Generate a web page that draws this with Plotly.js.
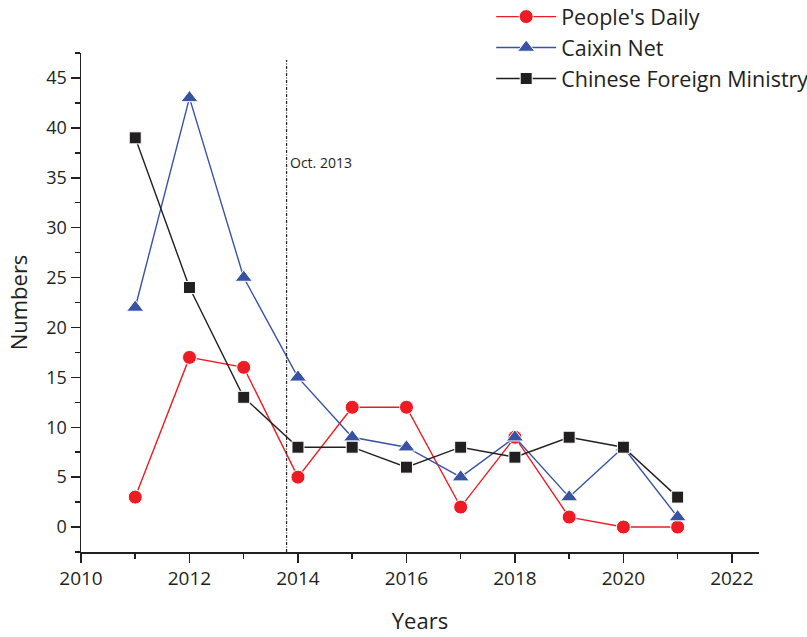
<!DOCTYPE html>
<html>
<head>
<meta charset="utf-8">
<script src="https://cdn.plot.ly/plotly-3.0.1.min.js"></script>
<style>html,body{margin:0;padding:0;background:#fff;}#chart{width:807px;height:637px;}</style>
</head>
<body>
<div id="chart"></div>
<script>
const years = [2011, 2012, 2013, 2014, 2015, 2016, 2017, 2018, 2019, 2020, 2021];
const peoplesDaily = [3, 17, 16, 5, 12, 12, 2, 9, 1, 0, 0];
const caixinNet = [22, 43, 25, 15, 9, 8, 5, 9, 3, 8, 1];
const foreignMinistry = [39, 24, 13, 8, 8, 6, 8, 7, 9, 8, 3];
const seriesNames = ["People's Daily", "Caixin Net", "Chinese Foreign Ministry"];
const markerLine = "Oct. 2013";
const markerX = 2013.79;

const font = "Open Sans, Noto Sans, sans-serif";
const axisColor = "#231f20";

const traces = [
  {x: years, y: peoplesDaily, name: seriesNames[0], mode: "lines+markers", type: "scatter",
   line: {color: "#ed1c24", width: 1.4},
   marker: {symbol: "circle", size: 14, color: "#ed1c24", line: {color: "#fff", width: 1}}},
  {x: years, y: caixinNet, name: seriesNames[1], mode: "lines+markers", type: "scatter",
   line: {color: "#3953a4", width: 1.4},
   marker: {symbol: "triangle-up", size: 15, color: "#3953a4", line: {color: "#fff", width: 1}}},
  {x: years, y: foreignMinistry, name: seriesNames[2], mode: "lines+markers", type: "scatter",
   line: {color: "#231f20", width: 1.4},
   marker: {symbol: "square", size: 12, color: "#231f20", line: {color: "#fff", width: 1}}}
];

const layout = {
  width: 807, height: 637,
  margin: {l: 81, r: 48, t: 53, b: 85, autoexpand: false},
  paper_bgcolor: "#fff", plot_bgcolor: "#fff",
  font: {family: font, color: axisColor},
  showlegend: true,
  legend: {x: 0.605, y: 1.114, xanchor: "left", yanchor: "top",
           font: {family: font, size: 21.5, color: axisColor},
           itemwidth: 60, bgcolor: "rgba(0,0,0,0)", tracegroupgap: 0},
  xaxis: {range: [2010, 2022.5], dtick: 2, tick0: 2010, showgrid: false, zeroline: false,
          showline: true, linecolor: axisColor, linewidth: 1.5,
          ticks: "outside", ticklen: 9, tickwidth: 1.5, tickcolor: axisColor,
          minor: {dtick: 1, ticks: "outside", ticklen: 5, tickwidth: 1.5, tickcolor: axisColor, showgrid: false},
          tickfont: {family: font, size: 19, color: axisColor},
          title: {text: "Years", font: {family: font, size: 22, color: axisColor}, standoff: 23}},
  yaxis: {range: [-2.5, 47.5], dtick: 5, tick0: 0, showgrid: false, zeroline: false,
          showline: true, linecolor: axisColor, linewidth: 1.5,
          ticks: "outside", ticklen: 9, tickwidth: 1.5, tickcolor: axisColor,
          minor: {dtick: 2.5, ticks: "outside", ticklen: 5, tickwidth: 1.5, tickcolor: axisColor, showgrid: false},
          tickfont: {family: font, size: 18, color: axisColor},
          title: {text: "Numbers", font: {family: font, size: 22, color: axisColor}, standoff: 12}},
  shapes: [{type: "line", xref: "x", yref: "y", x0: markerX, x1: markerX, y0: -2.5, y1: 46.8,
            line: {color: axisColor, width: 1.2, dash: "3px,1.5px,1px,1.5px"}}],
  annotations: [{xref: "x", yref: "y", x: markerX, y: 36.5, xanchor: "left", yanchor: "middle",
                 xshift: 1, text: markerLine, showarrow: false,
                 font: {family: font, size: 14, color: axisColor}}]
};

Plotly.newPlot("chart", traces, layout, {displayModeBar: false, staticPlot: true});
</script>
</body>
</html>
